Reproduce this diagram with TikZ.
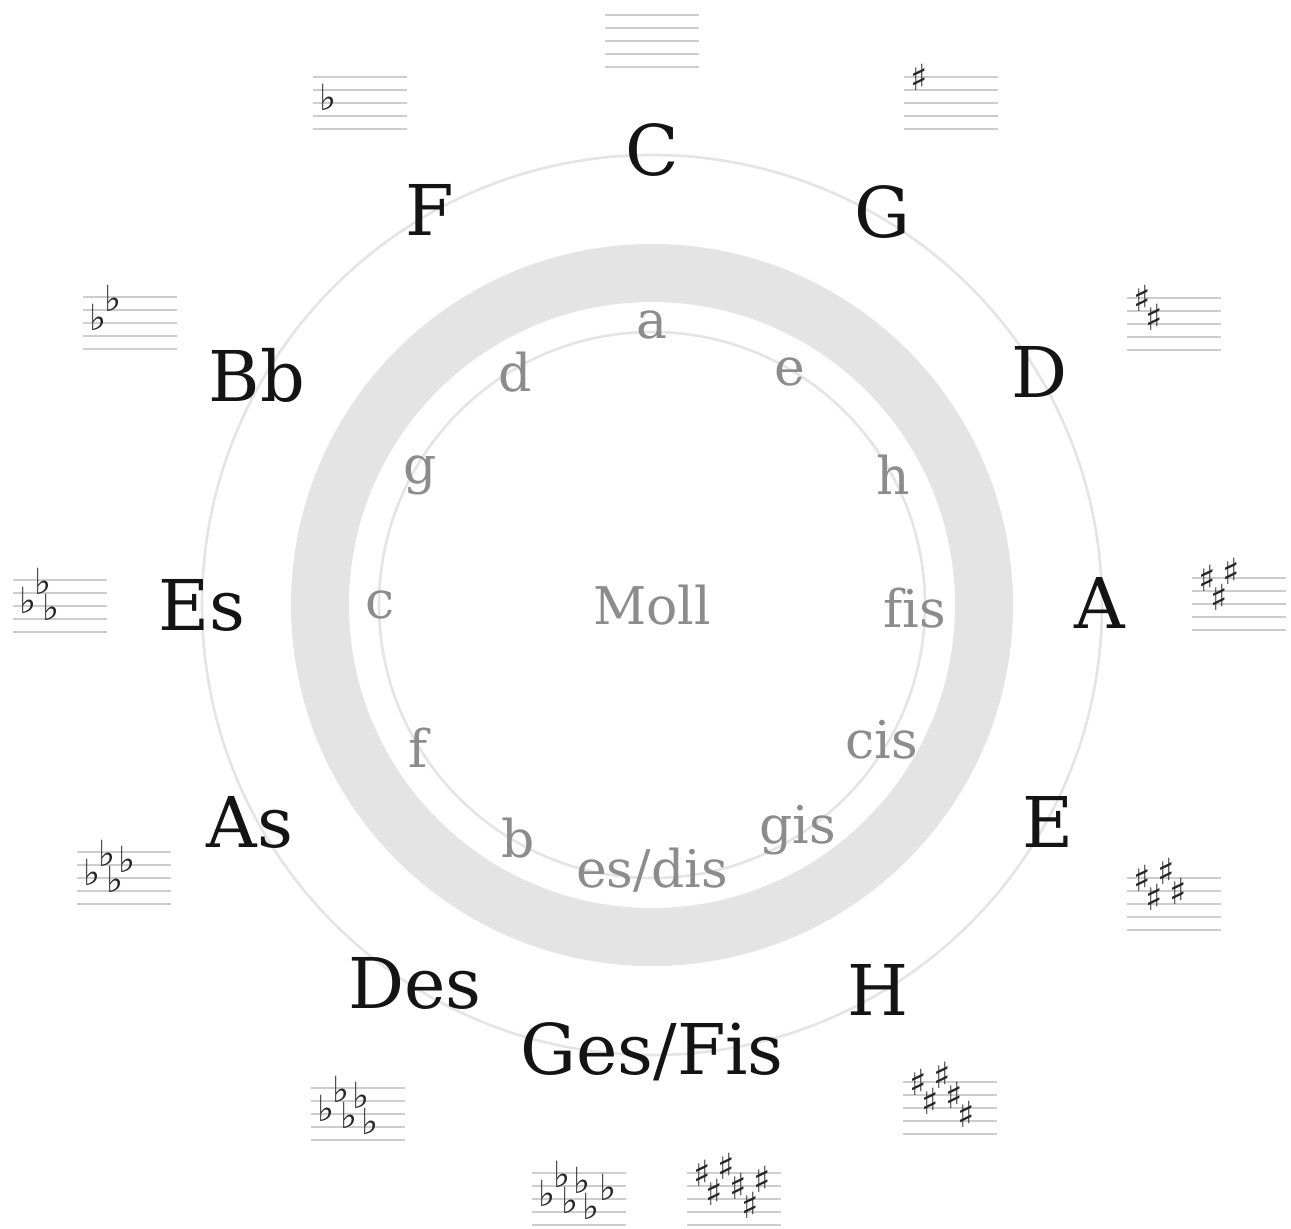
\documentclass[tikz,border=0pt]{standalone}
\usepackage{fontspec}
\setmainfont{DejaVu Serif}
\newfontfamily\accfont{DejaVu Sans}
\usepackage{xcolor}
\usepackage{tikz}
\usetikzlibrary{positioning,calc}
\definecolor{ringgray}{RGB}{228,228,228}
\definecolor{thingray}{RGB}{228,228,228}
\definecolor{staffgray}{RGB}{205,205,205}
\definecolor{mollgray}{RGB}{140,140,140}
\tikzset{
  major/.style={inner sep=0pt, text=black!92, font=\fontsize{35}{40}\selectfont},
  minor/.style={inner sep=0pt, text=mollgray, font=\fontsize{26}{30}\selectfont},
  staffline/.style={draw=staffgray, line width=0.6pt},
  acc/.style={inner sep=0pt, text=black!85, font=\accfont\fontsize{18}{20}\selectfont},
  thincircle/.style={draw=thingray, line width=1.3pt}
}
% staff: name, left x, top line y
\newcommand{\keystaff}[3]{%
  \foreach \l in {0,...,4}
    \draw[staffline] (#2,#3+13*\l) -- ++(94,0);
}
% sharps: name, left x, top line y, count
\newcommand{\sharpsig}[4]{%
  \foreach \dx/\p [count=\i] in {15/0,27/3,39/-1,51/2,63/5,75/1}
    {\ifnum\i>#4\relax\else\node[acc] (#1-\i) at (#2+\dx,#3+6.5*\p) {♯};\fi}
}
% flats: name, left x, top line y, count
\newcommand{\flatsig}[4]{%
  \foreach \dx/\p [count=\i] in {15/4,30/1,38/5,50/2,59/6,76/3}
    {\ifnum\i>#4\relax\else\node[acc, yshift=2.7pt] (#1-\i) at (#2+\dx,#3+6.5*\p) {♭};\fi}
}

\begin{document}
\begin{tikzpicture}[x=0.5pt, y=-0.5pt]
\useasboundingbox (0,0) rectangle (1291,1228);
\coordinate (ctr) at (652,605);
% circles
\draw[thincircle] (ctr) circle (450);
\draw[draw=ringgray, line width=29pt] (ctr) circle (332);
\draw[thincircle] (ctr) circle (273);
% major keys
\node[major] (C) at (652,150) {C};
\node[major] (G) at (882,212) {G};
\node[major] (D) at (1040,372) {D};
\node[major] (A) at (1100,603) {A};
\node[major] (E) at (1048,822) {E};
\node[major] (H) at (878,990) {H};
\node[major] (GesFis) at (652,1052) {Ges/Fis};
\node[major] (Des) at (415,983) {Des};
\node[major] (As) at (250,822) {As};
\node[major] (Es) at (202,605) {Es};
\node[major] (Bb) at (257,375) {Bb};
\node[major] (F) at (430,210) {F};
% minor keys
\node[minor] (am) at (652,325) {a};
\node[minor] (em) at (790,372) {e};
\node[minor] (hm) at (893,475) {h};
\node[minor] (fism) at (915,608) {f\kern0pt is};
\node[minor] (cism) at (882,740) {cis};
\node[minor] (gism) at (798,830) {gis};
\node[minor] (esm) at (652,870) {es/dis};
\node[minor] (bm) at (518,838) {b};
\node[minor] (fm) at (418,748) {f};
\node[minor] (cm) at (380,605) {c};
\node[minor] (gm) at (420,475) {g};
\node[minor] (dm) at (515,372) {d};
\node[minor] (moll) at (ctr) {Moll};
% key signatures
\keystaff{C}{605}{15}
\keystaff{G}{904}{77}    \sharpsig{G}{904}{77}{1}
\keystaff{D}{1127}{298}  \sharpsig{D}{1127}{298}{2}
\keystaff{A}{1192}{578}  \sharpsig{A}{1192}{578}{3}
\keystaff{E}{1127}{878}  \sharpsig{E}{1127}{878}{4}
\keystaff{H}{903}{1082}  \sharpsig{H}{903}{1082}{5}
\keystaff{Fis}{687}{1173} \sharpsig{Fis}{687}{1173}{6}
\keystaff{Ges}{532}{1173} \flatsig{Ges}{532}{1173}{6}
\keystaff{Des}{311}{1088} \flatsig{Des}{311}{1088}{5}
\keystaff{As}{77}{852}   \flatsig{As}{77}{852}{4}
\keystaff{Es}{13}{580}   \flatsig{Es}{13}{580}{3}
\keystaff{Bb}{83}{297}   \flatsig{Bb}{83}{297}{2}
\keystaff{F}{313}{77}    \flatsig{F}{313}{77}{1}
\end{tikzpicture}
\end{document}
